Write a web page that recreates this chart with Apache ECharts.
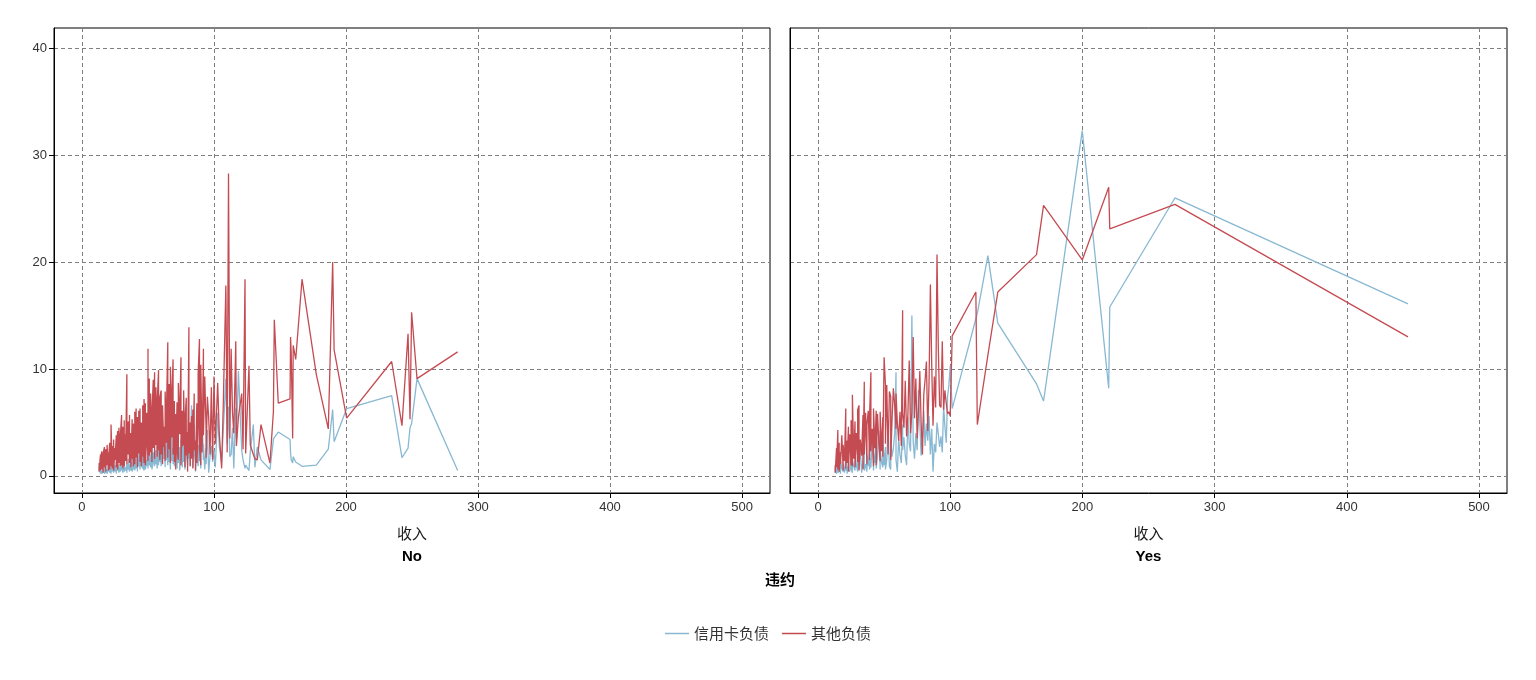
<!DOCTYPE html>
<html>
<head>
<meta charset="utf-8">
<script src="https://cdn.jsdelivr.net/npm/echarts@6/dist/echarts.min.js"></script>
<style>
  html, body { margin: 0; padding: 0; background: #fff; }
  #chart { width: 1536px; height: 680px; }
</style>
</head>
<body>
<div id="chart"></div>
<script>
// 违约 = No：收入 / 信用卡负债 / 其他负债（按收入排序）
const noIncome = [
  13, 13, 14, 14, 14, 15, 15, 16, 16, 16,
  17, 17, 18, 18, 18, 19, 19, 20, 20, 20,
  21, 21, 22, 22, 22, 23, 23, 24, 24, 24,
  25, 25, 26, 26, 26, 27, 27, 28, 28, 28,
  29, 29, 30, 30, 30, 31, 31, 32, 32, 32,
  33, 33, 34, 34, 34, 35, 35, 36, 36, 36,
  37, 37, 38, 38, 38, 39, 39, 40, 40, 40,
  41, 41, 42, 42, 42, 43, 43, 44, 44, 44,
  45, 45, 46, 46, 46, 47, 47, 48, 48, 48,
  49, 49, 50, 50, 50, 51, 51, 52, 52, 52,
  53, 53, 54, 54, 55, 55, 55, 56, 56, 57,
  57, 58, 58, 58, 59, 59, 60, 60, 61, 61,
  61, 62, 62, 63, 63, 64, 64, 65, 65, 65,
  66, 66, 67, 67, 68, 68, 69, 69, 70, 70,
  70, 71, 71, 72, 72, 73, 73, 74, 74, 75,
  75, 76, 76, 77, 77, 78, 78, 79, 79, 80,
  80, 81, 81, 82, 82, 83, 83, 84, 84, 85,
  85, 86, 86, 87, 87, 88, 88, 89, 89, 90,
  90, 91, 92, 92, 93, 94, 94, 95, 96, 97,
  98, 99, 100, 101, 102.8, 104, 105.8, 107, 109, 110,
  111, 112, 113, 114, 115, 116.5, 117, 118.5, 121, 122,
  123.5, 124, 126.5, 127.5, 129.8, 131, 132.8, 135.6, 142.4, 145,
  145.7, 148.7, 157.6, 158, 158.5, 159.6, 160, 161.9, 166.7, 177.5,
  186.6, 189.9, 191, 200.5, 234.6, 242.4, 247, 248.5, 249.7, 253.8,
  284.6
];
const noCard = [
  0.4, 0.9, 0.2, 0.6, 0.3, 0.5, 0.2, 0.7, 0.3, 0.4,
  0.9, 0.2, 0.5, 1.1, 0.3, 0.6, 0.2, 0.8, 0.4, 1.0,
  0.3, 0.7, 0.5, 0.2, 0.9, 0.4, 1.2, 0.6, 0.3, 0.8,
  1.0, 0.4, 0.7, 0.2, 1.3, 0.5, 0.9, 0.3, 1.1, 0.6,
  0.8, 0.4, 1.4, 0.5, 0.9, 0.3, 1.2, 0.6, 1.5, 0.4,
  0.8, 0.5, 1.1, 0.3, 0.9, 0.6, 1.6, 0.4, 1.0, 0.7,
  1.3, 0.5, 0.9, 1.8, 0.4, 1.2, 0.6, 1.5, 0.8, 0.5,
  1.9, 0.7, 1.1, 0.4, 1.6, 0.9, 2.2, 0.6, 1.4, 0.8,
  2.5, 1.0, 0.7, 1.8, 1.2, 0.5, 2.0, 3.5, 1.1, 0.6,
  1.5, 0.9, 2.3, 0.7, 1.6, 1.0, 2.6, 0.8, 1.9, 1.2,
  2.9, 0.6, 1.4, 2.2, 0.9, 3.1, 1.5, 1.1, 2.4, 0.7,
  3.3, 1.8, 1.0, 2.7, 1.3, 3.0, 0.9, 2.1, 3.5, 1.2,
  2.5, 1.6, 4.2, 0.8, 2.8, 1.5, 3.6, 1.0, 2.3, 4.5,
  1.3, 3.2, 0.6, 2.0, 3.8, 1.4, 2.6, 1.1, 5.6, 1.8,
  0.9, 3.0, 1.5, 2.2, 0.7, 4.4, 1.2, 2.7, 0.5, 1.9,
  3.4, 0.8, 2.5, 5.5, 1.3, 3.1, 0.6, 2.0, 4.0, 1.0,
  2.8, 1.6, 3.7, 0.9, 2.4, 6.6, 1.7, 3.2, 0.8, 2.1,
  4.8, 1.2, 0.4, 3.5, 1.8, 0.9, 2.9, 1.4, 4.1, 0.7,
  2.3, 5.2, 1.5, 3.0, 0.6, 2.6, 1.1, 4.3, 0.3, 1.9,
  2.8, 1.3, 2.4, 0.8, 5.9, 2.8, 1.2, 4.2, 9.1, 3.0,
  6.5, 1.8, 2.0, 4.5, 0.7, 6.3, 3.5, 9.8, 2.4, 1.5,
  0.7, 1.0, 0.5, 2.2, 4.8, 0.8, 2.7, 1.5, 0.6, 3.4,
  3.6, 4.1, 3.4, 2.2, 1.5, 1.2, 1.8, 1.3, 0.9, 1.0,
  2.5, 6.2, 3.2, 6.3, 7.5, 1.7, 2.6, 4.5, 4.9, 9.1,
  0.5
];
const noOther = [
  1.2, 0.4, 2.0, 0.5, 1.6, 2.3, 0.6, 1.4, 0.3, 2.1,
  2.7, 0.8, 1.9, 0.4, 2.5, 1.0, 2.9, 0.5, 2.2, 1.3,
  3.1, 0.6, 2.4, 0.9, 4.8, 0.7, 2.8, 1.1, 3.4, 0.5,
  2.6, 1.5, 3.8, 0.8, 2.1, 4.2, 0.6, 3.0, 1.2, 4.5,
  0.9, 3.6, 5.7, 1.0, 3.3, 0.7, 4.6, 1.8, 5.2, 0.9,
  3.9, 1.4, 9.5, 1.1, 4.4, 2.0, 5.1, 1.2, 5.7, 1.9,
  4.0, 0.8, 5.3, 1.6, 3.7, 0.9, 4.9, 2.2, 6.0, 1.1,
  6.3, 1.7, 4.6, 0.8, 5.5, 2.1, 6.1, 1.3, 6.3, 2.4,
  5.0, 0.9, 4.3, 1.8, 6.6, 1.2, 7.2, 2.6, 6.8, 1.0,
  3.5, 5.9, 1.4, 11.9, 2.8, 9.1, 1.9, 6.4, 2.2, 7.7,
  1.3, 5.8, 9.0, 2.6, 9.7, 1.6, 6.2, 2.9, 8.3, 1.8,
  6.9, 9.9, 2.4, 4.7, 1.5, 7.4, 8.0, 2.0, 5.2, 1.1,
  6.6, 2.7, 4.6, 1.4, 7.9, 3.1, 6.0, 12.5, 1.7, 5.4,
  2.5, 8.6, 1.2, 10.2, 3.6, 7.1, 10.9, 2.0, 4.2, 7.0,
  1.3, 5.8, 0.6, 6.9, 2.3, 1.5, 8.7, 3.9, 5.6, 11.1,
  1.0, 6.1, 2.8, 3.0, 8.0, 0.8, 5.2, 7.3, 1.9, 4.1,
  0.4, 13.9, 2.1, 5.0, 0.9, 5.6, 1.6, 6.2, 0.7, 7.7,
  2.4, 3.3, 0.5, 6.8, 1.2, 4.5, 9.6, 12.8, 2.6, 1.0,
  10.4, 2.2, 11.9, 3.8, 9.3, 4.5, 1.7, 7.4, 5.4, 2.0,
  8.3, 1.5, 9.3, 3.0, 8.7, 4.0, 0.7, 6.5, 17.8, 2.2,
  28.3, 3.5, 11.9, 6.0, 4.0, 12.6, 2.8, 5.5, 7.7, 2.5,
  18.4, 2.1, 10.3, 2.9, 2.0, 1.6, 1.5, 4.8, 1.2, 6.0,
  14.6, 6.8, 7.2, 13.0, 11.5, 3.5, 12.2, 10.9, 18.4, 9.5,
  4.4, 20.0, 11.8, 5.4, 10.7, 4.7, 13.3, 5.3, 15.3, 9.1,
  11.6
];

// 违约 = Yes
const yesIncome = [
  13, 13, 14, 14, 15, 15, 16, 16, 17, 17,
  18, 19, 19, 20, 21, 21, 22, 22, 23, 23,
  24, 25, 25, 26, 26, 27, 28, 28, 29, 30,
  30, 31, 31, 32, 33, 34, 34, 35, 35, 36,
  37, 37, 38, 39, 39, 40, 40, 41, 42, 42,
  43, 44, 44, 45, 46, 47, 47, 48, 49, 49,
  50, 51, 51, 52, 53, 54, 55, 55, 56, 57,
  58, 59, 59, 60, 61, 62, 63, 64, 64, 65,
  66, 67, 68, 69, 70, 71, 72, 73, 74, 75,
  76, 77, 78, 79, 80, 81, 82, 83, 84, 85,
  86, 87, 88, 89, 90, 91, 92, 93, 94, 95,
  96, 97, 98, 99, 100, 101.5, 119.4, 120.5, 128.5, 136,
  165.3, 170.6, 199.9, 219.9, 220.7, 270, 446.3
];
const yesCard = [
  0.3, 0.8, 0.2, 0.6, 1.2, 0.3, 0.5, 0.9, 0.2, 1.4,
  0.7, 0.4, 1.1, 0.3, 1.6, 0.5, 0.8, 0.2, 1.3, 0.6,
  0.4, 2.0, 0.7, 0.3, 1.5, 0.9, 0.5, 2.2, 1.0, 0.4,
  1.8, 0.6, 1.2, 2.4, 0.3, 1.4, 0.7, 3.2, 0.5, 1.1,
  0.4, 2.0, 0.9, 3.0, 0.6, 1.6, 0.8, 3.4, 0.5, 2.1,
  1.2, 3.6, 0.7, 1.8, 4.2, 0.6, 2.5, 1.3, 0.8, 3.8,
  1.0, 2.7, 0.6, 1.5, 4.5, 0.9, 0.6, 3.3, 1.8, 2.6,
  4.0, 9.7, 1.5, 0.4, 3.5, 2.0, 1.2, 4.8, 2.4, 3.6,
  1.9, 1.0, 5.5, 3.0, 2.3, 15.0, 3.2, 1.6, 4.0, 2.4,
  8.0, 5.0, 1.9, 3.5, 6.1, 2.8, 4.9, 3.3, 5.6, 2.0,
  4.4, 0.4, 3.0, 2.2, 5.0, 3.9, 2.7, 3.7, 2.2, 6.5,
  4.6, 3.1, 7.4, 8.5, 10.3, 6.3, 14.7, 15.2, 20.6, 14.3,
  8.6, 7.0, 32.3, 8.2, 15.8, 26.0, 16.1
];
const yesOther = [
  1.0, 0.3, 2.6, 0.8, 4.3, 0.6, 3.1, 0.4, 2.2, 1.1,
  3.8, 0.5, 2.9, 1.4, 6.3, 0.7, 3.3, 1.2, 4.6, 0.4,
  3.9, 1.0, 5.2, 0.9, 7.6, 1.6, 5.1, 0.8, 4.0, 1.3,
  6.2, 6.6, 0.5, 3.4, 1.9, 5.7, 0.6, 8.8, 2.0, 5.9,
  1.1, 4.8, 6.1, 1.5, 5.6, 9.7, 2.3, 4.4, 0.9, 6.3,
  2.6, 6.1, 1.0, 5.8, 3.2, 1.4, 6.0, 2.3, 5.5, 1.8,
  11.1, 8.5, 3.0, 8.5, 2.0, 7.9, 7.4, 1.5, 5.3, 8.2,
  6.6, 4.4, 7.7, 5.0, 3.3, 6.0, 2.8, 15.5, 5.9, 4.5,
  8.9, 3.7, 5.8, 10.8, 4.0, 6.0, 13.0, 5.4, 9.1, 3.5,
  6.2, 9.8, 5.0, 2.0, 7.6, 9.0, 10.7, 4.2, 8.8, 17.9,
  10.5, 4.7, 9.3, 6.4, 20.7, 12.0, 6.6, 6.4, 12.6, 6.2,
  8.0, 6.8, 5.8, 6.0, 5.6, 13.1, 17.2, 4.8, 11.3, 17.2,
  20.7, 25.3, 20.2, 27.0, 23.1, 25.4, 13.0
];

const xTicks = [0, 100, 200, 300, 400, 500];
const yTicks = [0, 10, 20, 30, 40];
const panels = ['No', 'Yes'];
const seriesNames = ['信用卡负债', '其他负债'];

const BLUE = '#88b8d2';
const RED = '#c44b52';
const CJK = '"Noto Sans CJK SC", sans-serif';
const LATIN = '"Liberation Sans", Arial, sans-serif';

const pairs = (xs, ys) => xs.map((x, i) => [x, ys[i]]);

const grids = [
  { left: 54, top: 28, width: 716, height: 465 },
  { left: 790, top: 28, width: 717, height: 465 },
].map((g) => ({ ...g, show: true, borderColor: '#000', borderWidth: 1, backgroundColor: '#fff' }));

const dash = { color: '#7f7f7f', width: 1, type: [4, 3] };

const xAxes = grids.map((g, i) => ({
  type: 'value', gridIndex: i, min: -21.2, max: 521.2,
  name: '收入', nameLocation: 'middle', nameGap: 33,
  nameTextStyle: { fontFamily: CJK, fontSize: 15, color: '#1a1a1a' },
  axisLine: { show: true, onZero: false, lineStyle: { color: '#000', width: 1 } },
  axisTick: { show: true, customValues: xTicks, length: 5, lineStyle: { color: '#000' } },
  axisLabel: { customValues: xTicks, color: '#333', fontSize: 13, fontFamily: LATIN, margin: 8 },
  splitLine: { show: true, lineStyle: dash },
}));

const yAxes = grids.map((g, i) => ({
  type: 'value', gridIndex: i, min: -1.6, max: 41.9,
  axisLine: { show: true, onZero: false, lineStyle: { color: '#000', width: 1 } },
  axisTick: { show: i === 0, customValues: yTicks, length: 5, lineStyle: { color: '#000' } },
  axisLabel: { show: i === 0, customValues: yTicks, color: '#333', fontSize: 13, fontFamily: LATIN, margin: 7 },
  splitLine: { show: true, lineStyle: dash },
}));

const panelData = [
  [pairs(noIncome, noCard), pairs(noIncome, noOther)],
  [pairs(yesIncome, yesCard), pairs(yesIncome, yesOther)],
];

const series = [];
panelData.forEach((pd, i) => {
  [BLUE, RED].forEach((c, k) => {
    series.push({
      name: seriesNames[k], type: 'line', xAxisIndex: i, yAxisIndex: i,
      data: pd[k], symbol: 'none', showSymbol: false,
      lineStyle: { color: c, width: 1.3 }, itemStyle: { color: c },
      z: 2 + k,
    });
  });
});

const chart = echarts.init(document.getElementById('chart'));
chart.setOption({
  animation: false,
  backgroundColor: '#fff',
  grid: grids,
  xAxis: xAxes,
  yAxis: yAxes,
  series,
  legend: {
    data: seriesNames, top: 621, left: 'center',
    icon: 'rect', itemWidth: 24, itemHeight: 1.5, itemGap: 13,
    textStyle: { fontFamily: CJK, fontSize: 15, color: '#333' },
  },
  graphic: [
    ...panels.map((p, i) => ({
      type: 'text', x: grids[i].left + grids[i].width / 2, y: 557,
      style: { text: p, fontFamily: LATIN, fontSize: 15, fontWeight: 'bold', fill: '#000',
               textAlign: 'center', textVerticalAlign: 'middle' },
    })),
    {
      type: 'text', x: 780, y: 579,
      style: { text: '违约', fontFamily: CJK, fontSize: 15, fontWeight: 'bold', fill: '#000',
               textAlign: 'center', textVerticalAlign: 'middle' },
    },
  ],
});
</script>
</body>
</html>
